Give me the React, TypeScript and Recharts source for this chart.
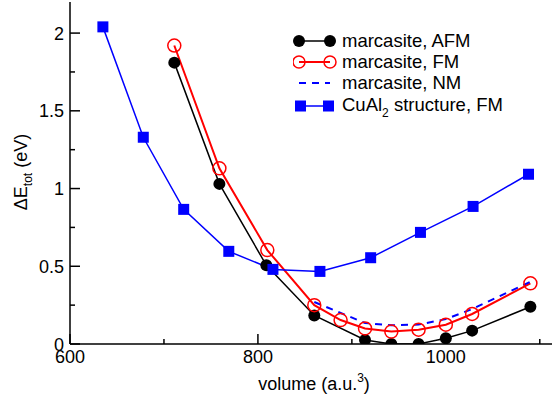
import { LineChart, Line, XAxis, YAxis } from "recharts";

// marcasite, AFM
const afmVol = [711, 759, 809, 860, 914, 942, 971, 1000, 1028, 1090];
const afmE = [1.81, 1.03, 0.506, 0.184, 0.026, 0.0, 0.0, 0.037, 0.086, 0.24];

// marcasite, FM
const fmVol = [711, 759, 810, 860, 888, 914, 942, 971, 1000, 1028, 1090];
const fmE = [1.92, 1.13, 0.604, 0.25, 0.154, 0.1, 0.08, 0.092, 0.124, 0.193, 0.39];

// marcasite, NM
const nmVol = [860, 914, 942, 971, 1000, 1028, 1090];
const nmE = [0.27, 0.135, 0.12, 0.125, 0.16, 0.225, 0.4];

// CuAl2 structure, FM
const cuVol = [635, 678, 721, 769, 816, 866, 920, 973, 1029, 1088];
const cuE = [2.04, 1.33, 0.866, 0.596, 0.48, 0.467, 0.555, 0.718, 0.885, 1.092];

const xTicks = [600, 700, 800, 900, 1000, 1100];
const yTicks = [0, 0.25, 0.5, 0.75, 1, 1.25, 1.5, 1.75, 2];
const xDomain = [600, 1113];
const yDomain = [0, 2.2];

const zip = (xs: number[], ys: number[]) => xs.map((v, i) => ({ v, e: ys[i] }));

// no serif face in the sandbox, a plain sans at matching size keeps the widths close
const FONT = "'Liberation Sans', Arial, sans-serif";

const isMajorX = (v: number) => v % 200 === 0;
const isMajorY = (v: number) => Math.abs(v * 2 - Math.round(v * 2)) < 1e-6;

const BottomTick = ({ x, y, payload }: any) => {
  const major = isMajorX(payload.value);
  return (
    <g>
      <line x1={x} x2={x} y1={y} y2={y - (major ? 10 : 5)} stroke="#000" strokeWidth={1.5} />
      {major && (
        <text x={x} y={y + 19} textAnchor="middle" fontSize={18} style={{ fontFamily: FONT }} fill="#000">
          {payload.value}
        </text>
      )}
    </g>
  );
};

const TopTick = ({ x, y, payload }: any) => {
  const major = isMajorX(payload.value);
  return <line x1={x} x2={x} y1={y} y2={y + (major ? 10 : 5)} stroke="#000" strokeWidth={1.5} />;
};

const LeftTick = ({ x, y, payload }: any) => {
  const major = isMajorY(payload.value);
  return (
    <g>
      <line x1={x} x2={x + (major ? 10 : 5)} y1={y} y2={y} stroke="#000" strokeWidth={1.5} />
      {major && (
        <text x={x - 6} y={y + 6.5} textAnchor="end" fontSize={18} style={{ fontFamily: FONT }} fill="#000">
          {String(payload.value)}
        </text>
      )}
    </g>
  );
};

const RightTick = ({ x, y, payload }: any) => {
  const major = isMajorY(payload.value);
  return <line x1={x} x2={x - (major ? 10 : 5)} y1={y} y2={y} stroke="#000" strokeWidth={1.5} />;
};

const Square = (p: any) => (
  <rect key={`sq-${p.index}`} x={p.cx - 5.5} y={p.cy - 5.5} width={11} height={11} fill="#0000ff" />
);

const LegendBox = () => {
  const rows = [
    { kind: "afm", label: <>marcasite, AFM</> },
    { kind: "fm", label: <>marcasite, FM</> },
    { kind: "nm", label: <>marcasite, NM</> },
    {
      kind: "cu",
      label: (
        <>
          CuAl<span style={{ fontSize: 12, position: "relative", top: 6 }}>2</span> structure, FM
        </>
      ),
    },
  ];
  return (
    <div style={{ position: "absolute", left: 293, top: 30, fontFamily: FONT, fontSize: 18.5, color: "#000", lineHeight: "20px" }}>
      {rows.map((r, i) => (
        <div key={i} style={{ display: "flex", alignItems: "center", height: i === 3 ? 24 : 21, marginTop: i === 3 ? 1 : 0 }}>
          <svg width={49} height={20} style={{ flex: "none" }}>
            {r.kind === "afm" && (
              <g>
                <line x1={6} x2={37} y1={10} y2={10} stroke="#000" strokeWidth={1.5} />
                <circle cx={6} cy={10} r={6} fill="#000" />
                <circle cx={37} cy={10} r={6} fill="#000" />
              </g>
            )}
            {r.kind === "fm" && (
              <g>
                <line x1={6} x2={37} y1={10} y2={10} stroke="#ff0000" strokeWidth={2} />
                <circle cx={6} cy={10} r={6} fill="none" stroke="#ff0000" strokeWidth={1.5} />
                <circle cx={37} cy={10} r={6} fill="none" stroke="#ff0000" strokeWidth={1.5} />
              </g>
            )}
            {r.kind === "nm" && (
              <line x1={6} x2={37} y1={10} y2={10} stroke="#0000ff" strokeWidth={2} strokeDasharray="7 6" />
            )}
            {r.kind === "cu" && (
              <g>
                <line x1={6} x2={37} y1={10} y2={10} stroke="#0000ff" strokeWidth={1.5} />
                <rect x={2} y={4.5} width={11} height={11} fill="#0000ff" />
                <rect x={30} y={4.5} width={11} height={11} fill="#0000ff" />
              </g>
            )}
          </svg>
          <span style={{ whiteSpace: "nowrap" }}>{r.label}</span>
        </div>
      ))}
    </div>
  );
};

export default function App() {
  return (
    <div style={{ position: "absolute", left: 0, top: 0, width: 553, height: 397, background: "#fff" }}>
      <LineChart width={553} height={397} margin={{ top: 2, right: 1, left: 0, bottom: 0 }}>
        <XAxis
          dataKey="v"
          type="number"
          domain={xDomain}
          ticks={xTicks}
          allowDataOverflow
          height={53}
          stroke="#000"
          strokeWidth={1.5}
          tickLine={false}
          tickSize={0}
          tickMargin={0}
          tick={<BottomTick />}
          interval={0}
          label={{
            content: () => (
              <text x={314} y={390} textAnchor="middle" fontSize={18} style={{ fontFamily: FONT }} fill="#000">
                volume (a.u.
                <tspan dy={-8} fontSize={12}>3</tspan>
                <tspan dy={8}>)</tspan>
              </text>
            ),
          }}
        />
        <XAxis
          xAxisId="top"
          dataKey="v"
          type="number"
          orientation="top"
          domain={xDomain}
          ticks={xTicks}
          allowDataOverflow
          height={0}
          stroke="#000"
          strokeWidth={1.5}
          tickLine={false}
          tickSize={0}
          tickMargin={0}
          tick={<TopTick />}
          interval={0}
        />
        <YAxis
          type="number"
          domain={yDomain}
          ticks={yTicks}
          allowDataOverflow
          width={70}
          stroke="#000"
          strokeWidth={1.5}
          tickLine={false}
          tickSize={0}
          tickMargin={0}
          tick={<LeftTick />}
          interval={0}
          label={{
            content: () => (
              <text transform="translate(27,172) rotate(-90)" textAnchor="middle" fontSize={18} style={{ fontFamily: FONT }} fill="#000">
                ΔE
                <tspan dy={5} fontSize={12}>tot</tspan>
                <tspan dy={-5}> (eV)</tspan>
              </text>
            ),
          }}
        />
        <YAxis
          yAxisId="right"
          type="number"
          orientation="right"
          domain={yDomain}
          ticks={yTicks}
          allowDataOverflow
          width={0}
          stroke="#000"
          strokeWidth={1.5}
          tickLine={false}
          tickSize={0}
          tickMargin={0}
          tick={<RightTick />}
          interval={0}
        />
        <Line
          data={zip(afmVol, afmE)}
          dataKey="e"
          stroke="#000"
          strokeWidth={1.5}
          dot={{ r: 6, fill: "#000", stroke: "none" }}
          isAnimationActive={false}
          type="linear"
        />
        <Line
          data={zip(fmVol, fmE)}
          dataKey="e"
          stroke="#ff0000"
          strokeWidth={2}
          dot={{ r: 6.5, fill: "none", stroke: "#ff0000", strokeWidth: 1.5 }}
          isAnimationActive={false}
          type="linear"
        />
        {/* same domains as the main axes, so this also keeps the top/right frame axes alive */}
        <Line
          data={zip(nmVol, nmE)}
          dataKey="e"
          xAxisId="top"
          yAxisId="right"
          stroke="#0000ff"
          strokeWidth={2}
          strokeDasharray="7 6"
          dot={false}
          isAnimationActive={false}
          type="linear"
        />
        <Line
          data={zip(cuVol, cuE)}
          dataKey="e"
          stroke="#0000ff"
          strokeWidth={1.5}
          dot={Square}
          isAnimationActive={false}
          type="linear"
        />
      </LineChart>
      <LegendBox />
    </div>
  );
}
